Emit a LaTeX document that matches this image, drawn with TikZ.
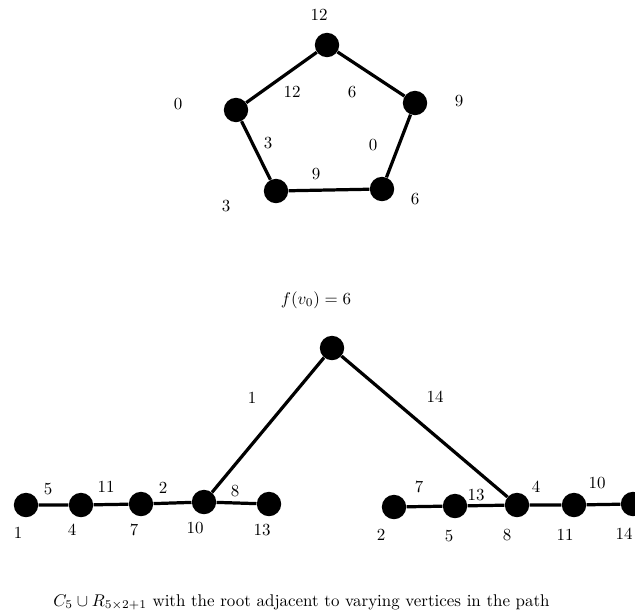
\documentclass[tikz,border=0pt]{standalone}
\begin{document}
\begin{tikzpicture}[x=0.59pt,y=-0.59pt,
  vtx/.style={circle,fill=black,draw=none,inner sep=0pt,minimum size=14.4pt},
  edge/.style={line width=1.9pt},
  lbl/.style={inner sep=0pt,font=\normalsize}]
\useasboundingbox (0,0) rectangle (635,616);
% pentagon
\node[vtx] (p0) at (327,45) {};
\node[vtx] (p1) at (415,103) {};
\node[vtx] (p2) at (382,189) {};
\node[vtx] (p3) at (276,191) {};
\node[vtx] (p4) at (236,110) {};
\draw[edge] (p0) -- (p1) -- (p2) -- (p3) -- (p4) -- (p0);
\node[lbl] (l0) at (319,15) {12};
\node[lbl] (l1) at (459,101) {9};
\node[lbl] (l2) at (415,199) {6};
\node[lbl] (l3) at (226,206) {3};
\node[lbl] (l4) at (178,104) {0};
\node[lbl] (e0) at (292,92) {12};
\node[lbl] (e1) at (352,92) {6};
\node[lbl] (e2) at (373,145) {0};
\node[lbl] (e3) at (316,174) {9};
\node[lbl] (e4) at (268,143) {3};
\node[lbl] (fv) at (316,300) {$f(v_0)=6$};
% root
\node[vtx] (r) at (332,348) {};
% left path
\node[vtx] (a1) at (26,505) {};
\node[vtx] (a2) at (81,505) {};
\node[vtx] (a3) at (141,504) {};
\node[vtx] (a4) at (204,502) {};
\node[vtx] (a5) at (269,504) {};
\draw[edge] (a1) -- (a2) -- (a3) -- (a4) -- (a5);
\draw[edge] (r) -- (a4);
\node[lbl] at (18,533) {1};
\node[lbl] at (72,530) {4};
\node[lbl] at (134,530) {7};
\node[lbl] at (195,528) {10};
\node[lbl] at (262,530) {13};
\node[lbl] at (48,489) {5};
\node[lbl] at (106,487) {11};
\node[lbl] at (163,488) {2};
\node[lbl] at (235,491) {8};
% right path
\node[vtx] (b1) at (394,507) {};
\node[vtx] (b2) at (455,506) {};
\node[vtx] (b3) at (517,505) {};
\node[vtx] (b4) at (574,505) {};
\node[vtx] (b5) at (633,504) {};
\draw[edge] (b1) -- (b2) -- (b3) -- (b4) -- (b5);
\draw[edge] (r) -- (b3);
\node[lbl] at (381,535) {2};
\node[lbl] at (449,536) {5};
\node[lbl] at (507,535) {8};
\node[lbl] at (565,535) {11};
\node[lbl] at (624,534) {14};
\node[lbl] at (419,487) {7};
\node[lbl] at (476,495) {13};
\node[lbl] at (536,487) {4};
\node[lbl] at (597,483) {10};
\node[lbl] at (252,398) {1};
\node[lbl] at (435,397) {14};
% caption
\node[lbl,anchor=base west] (cap) at (53,606) {$C_5\cup R_{5\times2+1}$ with the root adjacent to varying vertices in the path};
\end{tikzpicture}
\end{document}
